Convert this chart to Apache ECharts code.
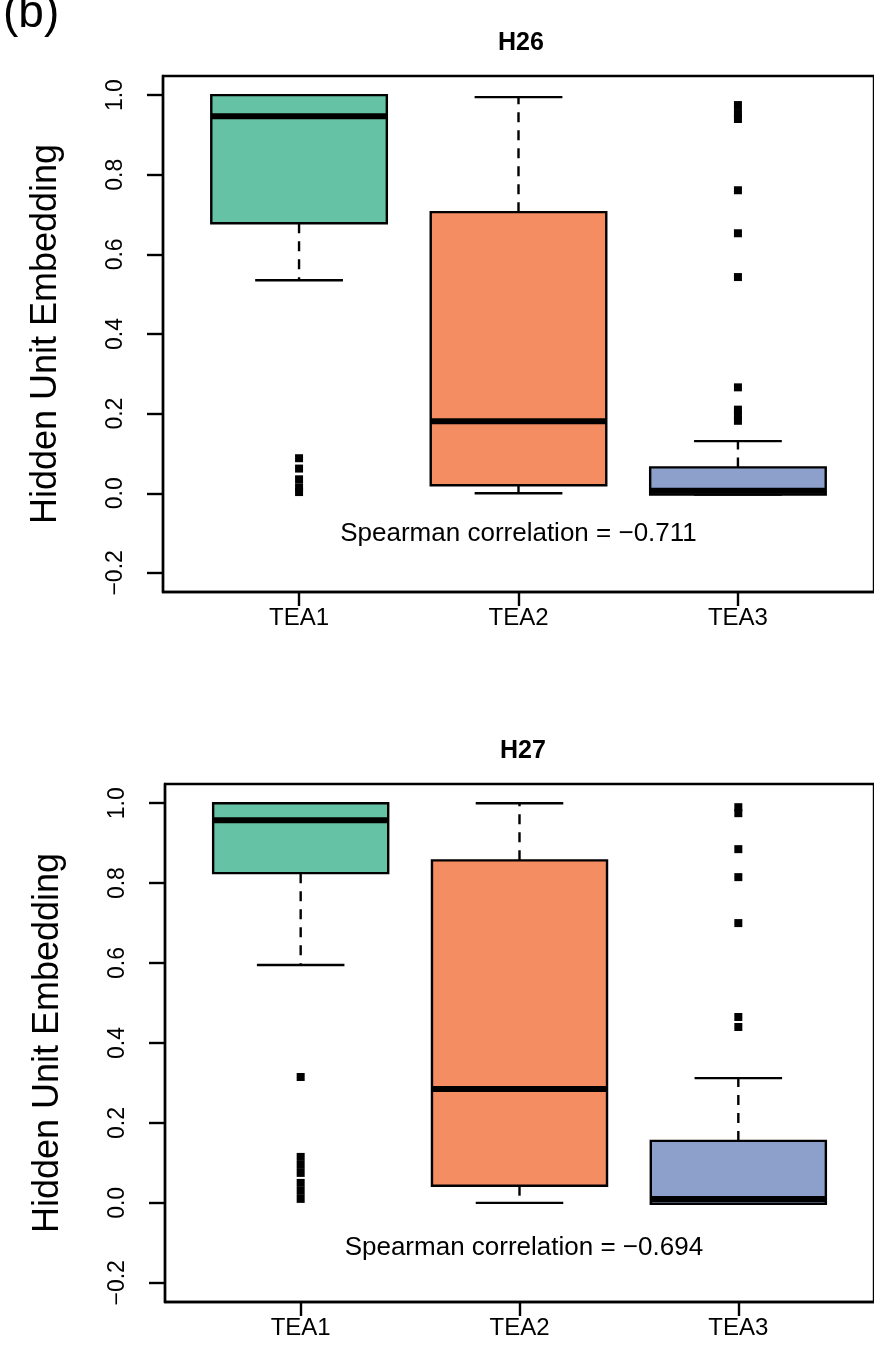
<!DOCTYPE html>
<html><head><meta charset="utf-8">
<script src="https://cdn.jsdelivr.net/npm/echarts@6/dist/echarts.min.js"></script>
<style>html,body{margin:0;padding:0;background:#fff}#c{width:874px;height:1361px}</style>
</head><body><div id="c"></div>
<script>
// ---- data ----
const categories = ['TEA1', 'TEA2', 'TEA3'];
const yTicks = [-0.2, 0, 0.2, 0.4, 0.6, 0.8, 1.0];
const boxColors = ['#66C2A5', '#F58D62', '#8DA0CB'];
const panelTitles = ['H26', 'H27'];
// [lower whisker, Q1, median, Q3, upper whisker]
const h26Box = [
  [0.535, 0.678, 0.947, 1.000, 1.000],
  [0.000, 0.020, 0.181, 0.706, 0.995],
  [-0.003, -0.003, 0.006, 0.065, 0.131]
];
const h26Outliers = [
  [0.088, 0.062, 0.035, 0.015, 0.003],
  [],
  [0.975, 0.955, 0.940, 0.761, 0.653, 0.543, 0.266, 0.210, 0.195, 0.182]
];
const h27Box = [
  [0.595, 0.825, 0.957, 1.000, 1.000],
  [0.000, 0.043, 0.285, 0.857, 1.000],
  [-0.002, -0.002, 0.010, 0.155, 0.312]
];
const h27Outliers = [
  [0.315, 0.115, 0.095, 0.075, 0.050, 0.030, 0.010],
  [],
  [0.990, 0.975, 0.885, 0.815, 0.700, 0.465, 0.440]
];
const spearmanText = ['Spearman correlation = \u22120.711', 'Spearman correlation = \u22120.694'];
const spearmanPos = [[2.0, -0.103], [2.02, -0.112]];

// ---- chart ----
const FONT = '"Liberation Sans", Arial, Helvetica, sans-serif';
const chart = echarts.init(document.getElementById('c'), null, {renderer: 'canvas'});

function renderBox(params, api) {
  const x = api.value(0);
  const lw = api.value(1), q1 = api.value(2), med = api.value(3), q3 = api.value(4), uw = api.value(5);
  const color = boxColors[params.dataIndex];
  const P = (xx, yy) => api.coord([xx, yy]);
  const half = 0.4, capHalf = 0.2;
  const dash = {stroke: '#000', lineWidth: 2.4, lineDash: [10, 8], fill: null};
  const solid = {stroke: '#000', lineWidth: 2.4, fill: null};
  const children = [];
  const seg = (a, b, style) => children.push({type: 'line', shape: {x1: a[0], y1: a[1], x2: b[0], y2: b[1]}, style});
  if (uw > q3) seg(P(x, q3), P(x, uw), dash);
  if (lw < q1) seg(P(x, q1), P(x, lw), dash);
  seg(P(x - capHalf, uw), P(x + capHalf, uw), solid);
  seg(P(x - capHalf, lw), P(x + capHalf, lw), solid);
  const tl = P(x - half, q3), br = P(x + half, q1);
  children.push({type: 'rect', shape: {x: tl[0], y: tl[1], width: br[0] - tl[0], height: br[1] - tl[1]},
    style: {fill: color, stroke: '#000', lineWidth: 2.4}});
  seg(P(x - half, med), P(x + half, med), {stroke: '#000', lineWidth: 6, fill: null});
  return {type: 'group', children};
}

const grids = [
  {left: 163, top: 76, width: 716, height: 516},
  {left: 165, top: 784, width: 714, height: 518}
];
const boxSets = [h26Box, h27Box];
const outlierSets = [h26Outliers, h27Outliers];

const txt = (text, x, y, size, weight, align) => ({
  type: 'text', x, y, silent: true,
  style: {text, fontSize: size, fontWeight: weight, fontFamily: FONT, fill: '#000', align, verticalAlign: 'middle'}
});

const option = {
  backgroundColor: '#fff',
  animation: false,
  textStyle: {fontFamily: FONT},
  grid: grids.map(g => Object.assign({show: true, borderColor: '#000', borderWidth: 2.4, backgroundColor: 'transparent'}, g)),
  graphic: [
    txt('(b)', 3, 14, 46, 'normal', 'left'),
    txt(panelTitles[0], 521, 43, 25, 'bold', 'center'),
    txt(panelTitles[1], 523, 751, 25, 'bold', 'center')
  ],
  xAxis: [0, 1].map(i => ({
    type: 'value', gridIndex: i, min: 0.38, max: 3.62,
    splitLine: {show: false},
    axisLine: {show: true, onZero: false, lineStyle: {color: '#000', width: 2.4}},
    axisTick: {show: true, customValues: [1, 2, 3], length: 14, lineStyle: {color: '#000', width: 2.4}},
    axisLabel: {customValues: [1, 2, 3], formatter: v => categories[Math.round(v) - 1], color: '#000',
      fontSize: 24, fontFamily: FONT, margin: 14}
  })),
  yAxis: [0, 1].map(i => ({
    type: 'value', gridIndex: i, min: -0.248, max: 1.048,
    name: 'Hidden Unit Embedding', nameLocation: 'middle', nameRotate: 90, nameGap: 99,
    nameTextStyle: {fontSize: 36, color: '#000', fontFamily: FONT},
    splitLine: {show: false},
    axisLine: {show: true, onZero: false, lineStyle: {color: '#000', width: 2.4}},
    axisTick: {show: true, customValues: yTicks, length: 16, lineStyle: {color: '#000', width: 2.4}},
    axisLabel: {customValues: yTicks, rotate: 90, color: '#000', fontSize: 23, fontFamily: FONT, margin: 36,
      formatter: v => (v < 0 ? '\u2212' : '') + Math.abs(v).toFixed(1)}
  })),
  series: []
};

[0, 1].forEach(i => {
  option.series.push({
    type: 'custom', xAxisIndex: i, yAxisIndex: i, renderItem: renderBox, silent: true,
    encode: {x: 0, y: [1, 2, 3, 4, 5]},
    data: boxSets[i].map((b, k) => [k + 1].concat(b))
  });
  const pts = [];
  outlierSets[i].forEach((arr, k) => arr.forEach(v => pts.push([k + 1, v])));
  option.series.push({
    type: 'scatter', xAxisIndex: i, yAxisIndex: i, symbol: 'rect', symbolSize: 8, silent: true,
    itemStyle: {color: '#000', opacity: 1}, data: pts
  });
  option.series.push({
    type: 'scatter', xAxisIndex: i, yAxisIndex: i, symbolSize: 0, silent: true,
    itemStyle: {opacity: 1},
    data: [spearmanPos[i]],
    label: {show: true, position: 'inside', formatter: () => spearmanText[i], color: '#000', fontSize: 26, fontFamily: FONT}
  });
});

chart.setOption(option);
</script>
</body></html>
